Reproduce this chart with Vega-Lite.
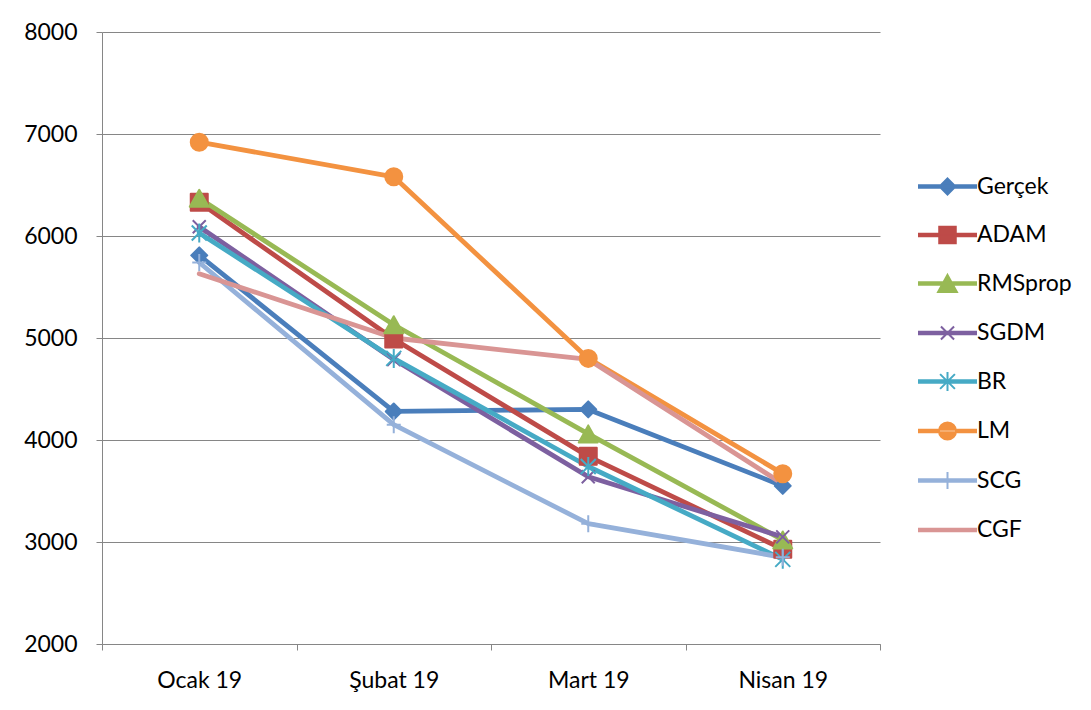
{
  "$schema": "https://vega.github.io/schema/vega-lite/v6.json",
  "autosize": "none",
  "width": 778,
  "height": 612,
  "padding": {"left": 102, "top": 32, "right": 211, "bottom": 66},
  "background": "white",
  "config": {
    "font": "Lato",
    "view": {"stroke": null},
    "axis": {"labelFont": "Lato", "labelFontSize": 23, "labelColor": "#000000", "domainColor": "#868686", "tickColor": "#868686", "gridColor": "#868686", "tickSize": 6, "domainWidth": 1, "tickWidth": 1, "gridWidth": 1}
  },
  "data": {
    "values": [
      {"ay": "Ocak 19", "series": "Gerçek", "value": 5810},
      {"ay": "Şubat 19", "series": "Gerçek", "value": 4280},
      {"ay": "Mart 19", "series": "Gerçek", "value": 4300},
      {"ay": "Nisan 19", "series": "Gerçek", "value": 3550},
      {"ay": "Ocak 19", "series": "ADAM", "value": 6330},
      {"ay": "Şubat 19", "series": "ADAM", "value": 4990},
      {"ay": "Mart 19", "series": "ADAM", "value": 3840},
      {"ay": "Nisan 19", "series": "ADAM", "value": 2930},
      {"ay": "Ocak 19", "series": "RMSprop", "value": 6370},
      {"ay": "Şubat 19", "series": "RMSprop", "value": 5130},
      {"ay": "Mart 19", "series": "RMSprop", "value": 4060},
      {"ay": "Nisan 19", "series": "RMSprop", "value": 3020},
      {"ay": "Ocak 19", "series": "SGDM", "value": 6090},
      {"ay": "Şubat 19", "series": "SGDM", "value": 4790},
      {"ay": "Mart 19", "series": "SGDM", "value": 3640},
      {"ay": "Nisan 19", "series": "SGDM", "value": 3050},
      {"ay": "Ocak 19", "series": "BR", "value": 6030},
      {"ay": "Şubat 19", "series": "BR", "value": 4800},
      {"ay": "Mart 19", "series": "BR", "value": 3740},
      {"ay": "Nisan 19", "series": "BR", "value": 2830},
      {"ay": "Ocak 19", "series": "LM", "value": 6920},
      {"ay": "Şubat 19", "series": "LM", "value": 6580},
      {"ay": "Mart 19", "series": "LM", "value": 4800},
      {"ay": "Nisan 19", "series": "LM", "value": 3670},
      {"ay": "Ocak 19", "series": "SCG", "value": 5740},
      {"ay": "Şubat 19", "series": "SCG", "value": 4150},
      {"ay": "Mart 19", "series": "SCG", "value": 3180},
      {"ay": "Nisan 19", "series": "SCG", "value": 2850},
      {"ay": "Ocak 19", "series": "CGF", "value": 5630},
      {"ay": "Şubat 19", "series": "CGF", "value": 5000},
      {"ay": "Mart 19", "series": "CGF", "value": 4790},
      {"ay": "Nisan 19", "series": "CGF", "value": 3570}
    ]
  },
  "encoding": {
    "x": {
      "field": "ay", "type": "nominal", "sort": ["Ocak 19", "Şubat 19", "Mart 19", "Nisan 19"],
      "scale": {"type": "band", "paddingInner": 0, "paddingOuter": 0},
      "axis": {"title": null, "labelAngle": 0, "tickBand": "extent", "grid": false, "labelPadding": 19}
    },
    "y": {
      "field": "value", "type": "quantitative",
      "scale": {"domain": [2000, 8000], "nice": false, "zero": false},
      "axis": {"title": null, "values": [2000, 3000, 4000, 5000, 6000, 7000, 8000], "format": "d", "grid": true, "labelPadding": 19}
    }
  },
  "layer": [
    {
      "mark": {"type": "line", "strokeWidth": 4.8, "strokeJoin": "round", "strokeCap": "round"},
      "encoding": {
        "color": {
          "field": "series", "type": "nominal",
          "scale": {
            "domain": ["Gerçek", "ADAM", "RMSprop", "SGDM", "BR", "LM", "SCG", "CGF"],
            "range": ["#4A7EBB", "#BE4B48", "#98B954", "#7D60A0", "#46AAC5", "#F39240", "#95B1DA", "#D99594"]
          },
          "legend": {
            "title": null,
            "orient": "none",
            "legendX": 816,
            "legendY": 125,
            "padding": 0,
            "symbolSize": 3249,
            "symbolStrokeWidth": 2,
            "rowPadding": 6.5,
            "labelFont": "Lato",
            "labelFontSize": 23,
            "labelColor": "#000000",
            "labelOffset": 0,
            "labelLimit": 200,
            "encode": {
              "symbols": {
                "update": {
                  "shape": {"signal": "(datum.value === 'Gerçek' ? 'M0,-0.28L0.28,0L0,0.28L-0.28,0Z' : datum.value === 'ADAM' ? 'M-0.29,-0.29H0.29V0.29H-0.29Z' : datum.value === 'RMSprop' ? 'M0,-0.3L0.33,0.3H-0.33Z' : datum.value === 'SGDM' ? 'M-0.23,-0.23L0.23,0.23M-0.23,0.23L0.23,-0.23' : datum.value === 'BR' ? 'M-0.26,-0.26L0.26,0.26M-0.26,0.26L0.26,-0.26M0,-0.33V0.33' : datum.value === 'LM' ? 'M-0.3,0A0.3,0.3 0 1,0 0.3,0A0.3,0.3 0 1,0 -0.3,0Z' : datum.value === 'SCG' ? 'M0,-0.3V0.3' : '') + 'M-1,-0.045H1V0.045H-1Z'"},
                  "fill": {"scale": "color", "field": "value"},
                  "stroke": {"scale": "color", "field": "value"},
                  "strokeWidth": {"value": 2},
                  "size": {"value": 3249},
                  "opacity": {"value": 1},
                  "fillOpacity": {"value": 1},
                  "strokeOpacity": {"value": 1}
                }
              }
            }
          }
        }
      }
    },
    {
      "transform": [{"filter": "datum.series !== 'CGF'"}],
      "mark": {"type": "point", "size": 400, "strokeWidth": 2, "opacity": 1, "strokeJoin": "round"},
      "encoding": {
        "shape": {
          "field": "series", "type": "nominal", "legend": null,
          "scale": {
            "domain": ["Gerçek", "ADAM", "RMSprop", "SGDM", "BR", "LM", "SCG"],
            "range": [
              "M0,-0.8L0.8,0L0,0.8L-0.8,0Z",
              "M-0.85,-0.85H0.85V0.85H-0.85Z",
              "M0,-0.85L0.95,0.85H-0.95Z",
              "M-0.65,-0.65L0.65,0.65M-0.65,0.65L0.65,-0.65",
              "M-0.75,-0.75L0.75,0.75M-0.75,0.75L0.75,-0.75M0,-0.95V0.95",
              "M-0.85,0A0.85,0.85 0 1,0 0.85,0A0.85,0.85 0 1,0 -0.85,0Z",
              "M0,-0.85V0.85M-0.7,0H0.7"
            ]
          }
        },
        "fill": {
          "field": "series", "type": "nominal", "legend": null,
          "scale": {
            "domain": ["Gerçek", "ADAM", "RMSprop", "SGDM", "BR", "LM", "SCG"],
            "range": ["#4A7EBB", "#BE4B48", "#98B954", "#7D60A0", "#46AAC5", "#F39240", "#95B1DA"]
          }
        },
        "stroke": {
          "field": "series", "type": "nominal", "legend": null,
          "scale": {
            "domain": ["Gerçek", "ADAM", "RMSprop", "SGDM", "BR", "LM", "SCG"],
            "range": ["#4A7EBB", "#BE4B48", "#98B954", "#7D60A0", "#46AAC5", "#F39240", "#95B1DA"]
          }
        }
      }
    }
  ]
}
